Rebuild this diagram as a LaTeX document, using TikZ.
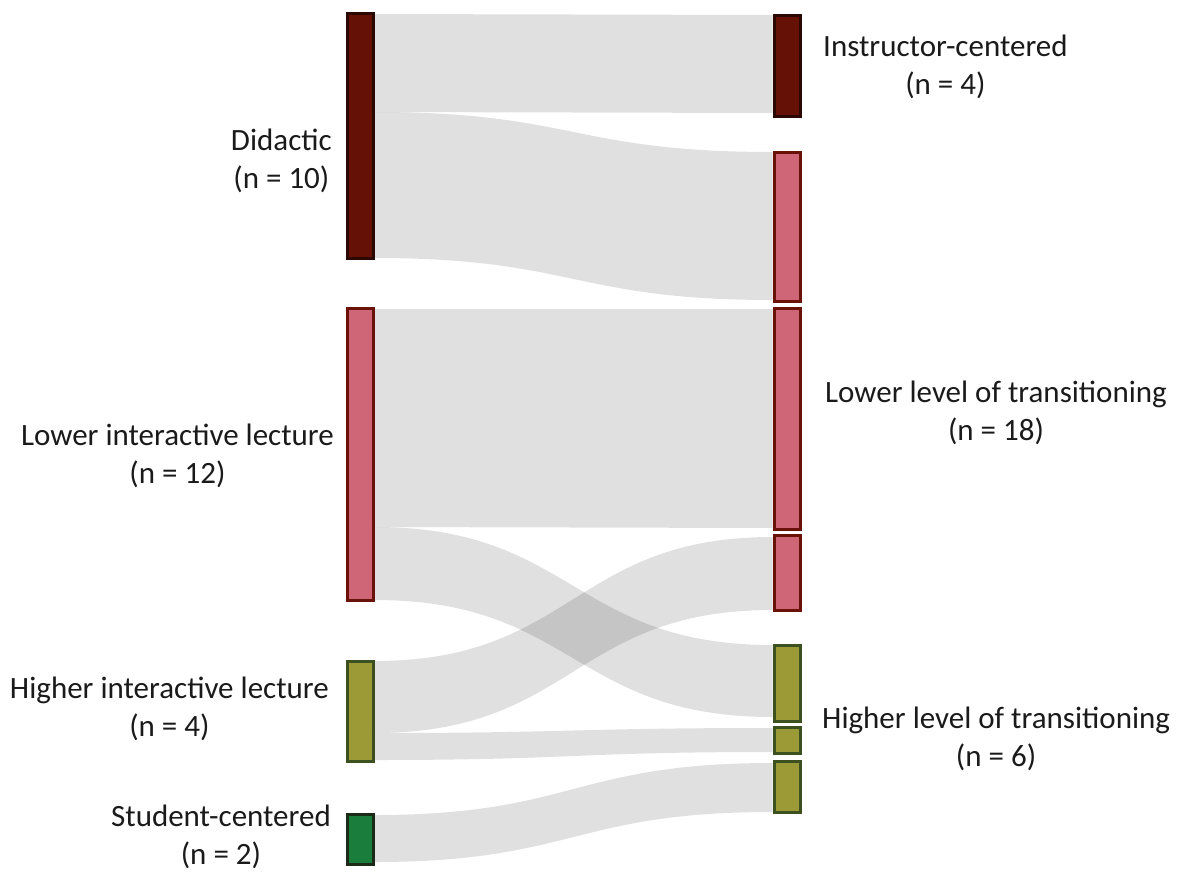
\documentclass[tikz,border=0pt]{standalone}
\usepackage{fontspec}
\setmainfont{Carlito}
\usepackage{tikz}

\definecolor{didfill}{HTML}{651105}
\definecolor{didline}{HTML}{2B0804}
\definecolor{lowfill}{HTML}{CF6677}
\definecolor{lowline}{HTML}{6B1208}
\definecolor{highfill}{HTML}{9C9A36}
\definecolor{highline}{HTML}{3D5020}
\definecolor{stufill}{HTML}{1B7D3B}
\definecolor{stuline}{HTML}{1C2B18}
\definecolor{txt}{HTML}{1A1A1A}

% band from node #1 (y #2..#3) to node #4 (y #5..#6)
\newcommand{\flow}[6]{%
  \fill[band] (#1.east |- 0,#2) .. controls +(199,0) and +(-199,0) .. (#4.west |- 0,#5)
    -- (#4.west |- 0,#6) .. controls +(-199,0) and +(199,0) .. (#1.east |- 0,#3) -- cycle;}

\begin{document}
\begin{tikzpicture}[x=1pt,y=-1pt,
    bar/.style={draw, line width=3pt, minimum width=26pt, inner sep=0pt},
    band/.style={fill=black, fill opacity=0.12},
    lab/.style={text=txt, font=\fontsize{31}{38}\selectfont, align=center, inner sep=0pt}]
      \useasboundingbox (0,0) rectangle (1180,873);

      \node[bar, fill=didfill, draw=didline, minimum height=245pt] (did) at (360,136) {};
      \node[bar, fill=lowfill, draw=lowline, minimum height=292pt] (lil) at (360,454.5) {};
      \node[bar, fill=highfill, draw=highline, minimum height=100pt] (hil) at (360,711.5) {};
      \node[bar, fill=stufill, draw=stuline, minimum height=50pt] (stu) at (360,839.5) {};

      \node[bar, fill=didfill, draw=didline, minimum height=101pt] (ins) at (787,66) {};
      \node[bar, fill=lowfill, draw=lowline, minimum height=149pt] (low1) at (787,227) {};
      \node[bar, fill=lowfill, draw=lowline, minimum height=221pt] (low2) at (787,419) {};
      \node[bar, fill=lowfill, draw=lowline, minimum height=75pt] (low3) at (787,573) {};
      \node[bar, fill=highfill, draw=highline, minimum height=76pt] (high1) at (787,683.5) {};
      \node[bar, fill=highfill, draw=highline, minimum height=26pt] (high2) at (787,740.5) {};
      \node[bar, fill=highfill, draw=highline, minimum height=51pt] (high3) at (787,787) {};

      \flow{did}{14}{112}{ins}{15}{113}
      \flow{did}{112}{258}{low1}{152}{300}
      \flow{lil}{309}{527}{low2}{309}{528}
      \flow{lil}{527}{600}{high1}{645}{717}
      \flow{hil}{661}{733}{low3}{537}{610}
      \flow{hil}{733}{760}{high2}{728}{752}
      \flow{stu}{815}{862}{high3}{763}{812}

      \node[lab, anchor=east] (didlab) at (332,161) {Didactic\\(n = 10)};
      \node[lab, anchor=east] (lillab) at (334,456) {Lower interactive lecture\\(n = 12)};
      \node[lab, anchor=east] (hillab) at (329,709) {Higher interactive lecture\\(n = 4)};
      \node[lab, anchor=east] (stulab) at (331,837) {Student-centered\\(n = 2)};

      \node[lab, anchor=west] (inslab) at (823,67) {Instructor-centered\\(n = 4)};
      \node[lab, anchor=west] (lowlab) at (825,413) {Lower level of transitioning\\(n = 18)};
      \node[lab, anchor=west] (highlab) at (822,739) {Higher level of transitioning\\(n = 6)};
    \end{tikzpicture}
\end{document}
